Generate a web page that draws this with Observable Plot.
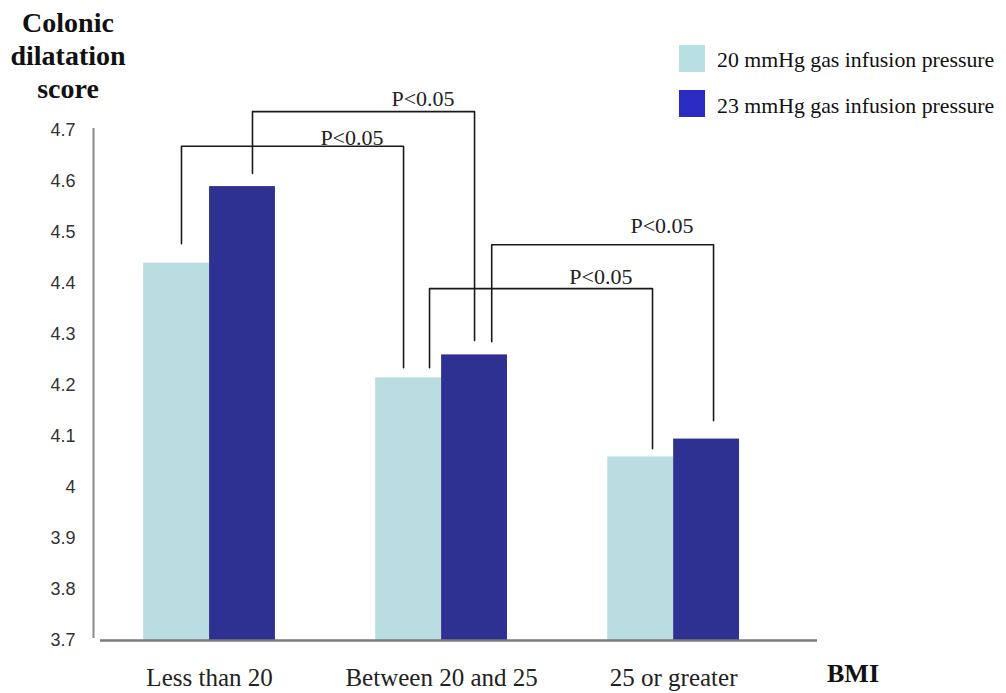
<!DOCTYPE html>
<html>
<head>
<meta charset="utf-8">
<script src="https://cdn.jsdelivr.net/npm/d3@7"></script>
<script src="https://cdn.jsdelivr.net/npm/@observablehq/plot@0.6"></script>
<style>
  html, body { margin: 0; padding: 0; background: #fff; }
  #wrap { position: relative; width: 1006px; height: 693px; overflow: hidden; }
  #wrap svg { position: absolute; left: 0; top: 0; }
  .ov { position: absolute; white-space: nowrap; font-family: "Liberation Serif", "Times New Roman", serif; color: #111; }
  #title { left: 0; top: 6px; width: 136px; text-align: center; font-weight: bold; font-size: 28px; line-height: 33px; }
  .sw { position: absolute; width: 26px; height: 27px; }
  .lg { font-size: 21.8px; line-height: 27px; }
  #bmi { font-weight: bold; font-size: 26px; left: 827px; top: 659px; line-height: 30px; }
</style>
</head>
<body>
<div id="wrap"></div>
<script>
// ---- data ----
const groups = ["Less than 20", "Between 20 and 25", "25 or greater"];
const series = ["20 mmHg gas infusion pressure", "23 mmHg gas infusion pressure"];
const score20 = [4.44, 4.215, 4.06];
const score23 = [4.59, 4.26, 4.095];
const yTicks = [3.7, 3.8, 3.9, 4.0, 4.1, 4.2, 4.3, 4.4, 4.5, 4.6, 4.7];

// significance brackets (which bars are compared, bracket heights in score units)
const bracketFromGroup = [0, 0, 1, 1];
const bracketToGroup = [1, 1, 2, 2];
const bracketSeries = [0, 1, 0, 1];
const bracketTop = [4.669, 4.737, 4.390, 4.476];
const bracketLeftEnd = [4.478, 4.616, 4.235, 4.286];
const bracketRightEnd = [4.235, 4.288, 4.076, 4.131];
const bracketLabel = ["P<0.05", "P<0.05", "P<0.05", "P<0.05"];
const bracketLabelY = [4.671, 4.749, 4.400, 4.500];

// ---- layout constants ----
const colors = ["#b9dde0", "#2f3192"];
const legendColors = ["#b8dfe2", "#2b2bc4"];
const BAR_W = 0.284;
const legShiftL = [0.021, 0.043, 0.09, 0.074];
const legShiftR = [-0.022, 0, 0.051, 0.03];
const xDomain = [-0.47, 2.62];
const yDomain = [3.7, 4.7];

const bars = groups.flatMap((g, i) => series.map((s, j) => ({
  group: g, gi: i, series: s, si: j, value: j ? score23[i] : score20[i]
})));
const barCenter = (gi, si) => gi + (si === 0 ? -BAR_W / 2 : BAR_W / 2);

const bracketPts = [];
const labels = [];
bracketTop.forEach((top, k) => {
  const s = bracketSeries[k];
  const xl = barCenter(bracketFromGroup[k], s) + legShiftL[k];
  const xr = barCenter(bracketToGroup[k], s) + legShiftR[k];
  bracketPts.push({k, x: xl, y: bracketLeftEnd[k]}, {k, x: xl, y: top}, {k, x: xr, y: top}, {k, x: xr, y: bracketRightEnd[k]});
  labels.push({x: xr, y: bracketLabelY[k], text: bracketLabel[k]});
});

const chart = Plot.plot({
  width: 1006,
  height: 693,
  marginLeft: 100,
  marginRight: 189,
  marginTop: 130,
  marginBottom: 53,
  style: {fontFamily: "Liberation Serif", background: "transparent", overflow: "visible"},
  x: {type: "linear", domain: xDomain},
  y: {domain: yDomain},
  color: {domain: series, range: colors},
  marks: [
    Plot.rect(bars, {
      x1: d => d.gi + (d.si ? 0 : -BAR_W),
      x2: d => d.gi + (d.si ? BAR_W : 0),
      y1: yDomain[0],
      y2: "value",
      fill: "series"
    }),
    Plot.ruleY([yDomain[0]], {stroke: "#7a7a7a", strokeWidth: 2.5}),
    Plot.ruleX([xDomain[0]], {y1: yDomain[0], y2: yDomain[1], dx: -7, dy: -2, stroke: "#8a8a8a", strokeWidth: 2}),
    Plot.line(bracketPts, {x: "x", y: "y", z: "k", stroke: "#1a1a1a", strokeWidth: 1.6}),
    Plot.text(labels, {x: "x", y: "y", text: "text", dx: -20, textAnchor: "end", lineAnchor: "bottom",
      fontSize: 22, fontFamily: "Liberation Serif", fill: "#222"}),
    Plot.axisY({ticks: yTicks, tickSize: 0, tickPadding: 25, tickFormat: "~g", label: null,
      fontSize: 18, fontFamily: "Liberation Sans", fill: "#333"}),
    Plot.axisX({ticks: [0, 1, 2], tickFormat: i => groups[i], tickSize: 0, tickPadding: 28, label: null,
      fontSize: 25, fontFamily: "Liberation Serif", fill: "#222"})
  ]
});

const wrap = document.getElementById("wrap");
wrap.appendChild(chart);

// title
const title = document.createElement("div");
title.className = "ov";
title.id = "title";
title.innerHTML = "Colonic<br>dilatation<br>score";
wrap.appendChild(title);

// legend
series.forEach((s, j) => {
  const sw = document.createElement("div");
  sw.className = "sw";
  sw.style.left = "679px";
  sw.style.top = (45 + j * 45) + "px";
  sw.style.background = legendColors[j];
  wrap.appendChild(sw);
  const t = document.createElement("div");
  t.className = "ov lg";
  t.style.left = "717px";
  t.style.top = (47 + j * 46) + "px";
  t.textContent = s;
  wrap.appendChild(t);
});

// x-axis name
const bmi = document.createElement("div");
bmi.className = "ov";
bmi.id = "bmi";
bmi.textContent = "BMI";
wrap.appendChild(bmi);
</script>
</body>
</html>
